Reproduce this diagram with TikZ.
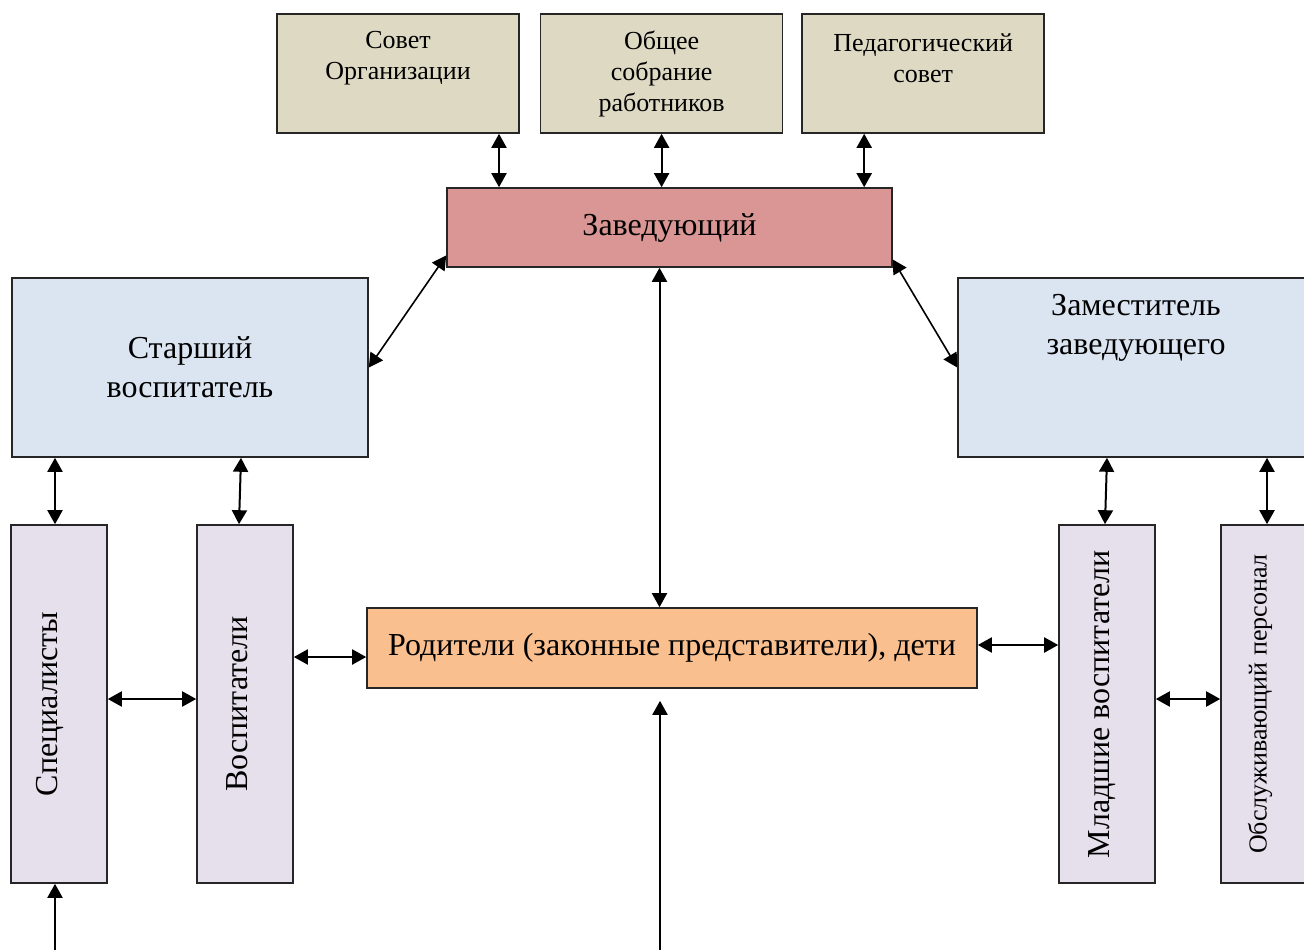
\documentclass[tikz,border=0pt]{standalone}
\usepackage{fontspec}
\setmainfont{Liberation Serif}
\usetikzlibrary{arrows.meta,positioning}
\definecolor{councilfill}{RGB}{221,217,195}
\definecolor{headfill}{RGB}{217,150,148}
\definecolor{deputyfill}{RGB}{219,229,241}
\definecolor{stafffill}{RGB}{229,224,236}
\definecolor{parentfill}{RGB}{250,191,143}
\tikzstyle{box}=[draw=black!85, line width=1.6pt, inner sep=0pt]
\tikzstyle{council}=[box, fill=councilfill,
    minimum width=242pt, minimum height=119pt]
\tikzstyle{head}=[box, fill=headfill, minimum width=445pt,
    minimum height=79pt, font=\fontsize{32}{38}\selectfont]
\tikzstyle{deputy}=[box, fill=deputyfill, minimum width=356pt,
    minimum height=179pt, align=center, font=\fontsize{32}{39}\selectfont]
\tikzstyle{staff}=[box, fill=stafffill, minimum width=96pt,
    minimum height=358pt]
\tikzstyle{parent}=[box, fill=parentfill, minimum width=610pt,
    minimum height=80pt, font=\fontsize{32}{38}\selectfont]
\tikzstyle{ttxt}=[align=center, font=\fontsize{26}{31}\selectfont]
\tikzstyle{vtxt}=[rotate=90, font=\fontsize{32}{38}\selectfont]
\tikzstyle{link}=[{Triangle[length=14pt,width=15pt]}-{Triangle[length=14pt,width=15pt]},
    line width=2pt]
\tikzstyle{diag}=[link, line width=1.6pt]
\tikzstyle{inlink}=[-{Triangle[length=14pt,width=15pt]}, line width=2pt]
\def\colgap{20pt}

\begin{document}
\begin{tikzpicture}[x=1pt,y=-1pt]
    \clip (0,0) rectangle (1304,950);
    \useasboundingbox (0,0) rectangle (1304,950);
    % councils and head
    \node (sovet) [council] at (398,73.5) {};
    \node (obshee) [council, right=\colgap of sovet] {};
    \node (pedsovet) [council, right=18pt of obshee] {};
    \node (zav) [head] at (669.5,227.5) {Заведующий};
    \node (sovet-t) [ttxt] at ([yshift=15.5pt]sovet.center) {Совет\\Организации};
    \node (obshee-t) [ttxt] at (obshee.center) {Общее\\собрание\\работников};
    \node (pedsovet-t) [ttxt] at ([yshift=15.5pt]pedsovet.center) {Педагогический\\совет};
    % deputies
    \node (starsh) [deputy] at (190,367.5) {Старший\\воспитатель};
    \node (zam) [deputy] at (1136,367.5) {};
    \node (zam-t) [deputy, draw=none, fill=none, minimum width=0pt, minimum height=0pt]
        at ([yshift=39.5pt]zam.center) {Заместитель\\заведующего};
    % staff columns
    \node (spec) [staff] at (59,704) {};
    \node (vosp) [staff] at (245,704) {};
    \node (mlad) [staff] at (1107,704) {};
    \node (obsl) [staff] at (1269,704) {};
    \node (spec-t) [vtxt] at ([xshift=-9pt]spec.center) {Специалисты};
    \node (vosp-t) [vtxt] at ([xshift=-8pt]vosp.center) {Воспитатели};
    \node (mlad-t) [vtxt] at ([xshift=-5pt]mlad.center) {Младшие воспитатели};
    \node (obsl-t) [vtxt, font=\fontsize{26}{31}\selectfont]
        at ([xshift=-9pt]obsl.center) {Обслуживающий персонал};
    \node (rod) [parent] at (672,648) {Родители (законные представители), дети};
    % links
    \draw [link] ([xshift=101pt]sovet.south) -- ([xshift=101pt]sovet.south |- zav.north);
    \draw [link] (obshee.south) -- (obshee.south |- zav.north);
    \draw [link] ([xshift=-59pt]pedsovet.south) -- ([xshift=-59pt]pedsovet.south |- zav.north);
    \draw [diag] ([yshift=-28pt]zav.west) -- (starsh.east);
    \draw [diag] ([yshift=-32pt]zav.east) -- (zam.west);
    \draw [link] ([xshift=-10pt]zav.south) -- ([xshift=-10pt]zav.south |- rod.north);
    \draw [link] ([xshift=-4pt]spec.north |- starsh.south) -- ([xshift=-4pt]spec.north);
    \draw [link] ([xshift=-4pt]vosp.north |- starsh.south) -- ([xshift=-6pt]vosp.north);
    \draw [link] (mlad.north |- zam.south) -- ([xshift=-2pt]mlad.north);
    \draw [link] ([xshift=-2pt]obsl.north |- zam.south) -- ([xshift=-2pt]obsl.north);
    \draw [link] ([yshift=5pt]spec.east) -- ([yshift=5pt]vosp.west);
    \draw [link] ([yshift=-9pt]rod.west -| vosp.east) -- ([yshift=-9pt]rod.west);
    \draw [link] ([yshift=3pt]rod.east) -- ([yshift=3pt]rod.east -| mlad.west);
    \draw [link] ([yshift=5pt]mlad.east) -- ([yshift=5pt]obsl.west);
    % from below
    \coordinate (specin) at (55,960);
    \coordinate (rodin) at (660,960);
    \draw [inlink] (specin) -- (specin |- spec.south);
    \draw [inlink] (rodin) -- ([yshift=-12pt]rodin |- rod.south);
\end{tikzpicture}
\end{document}
